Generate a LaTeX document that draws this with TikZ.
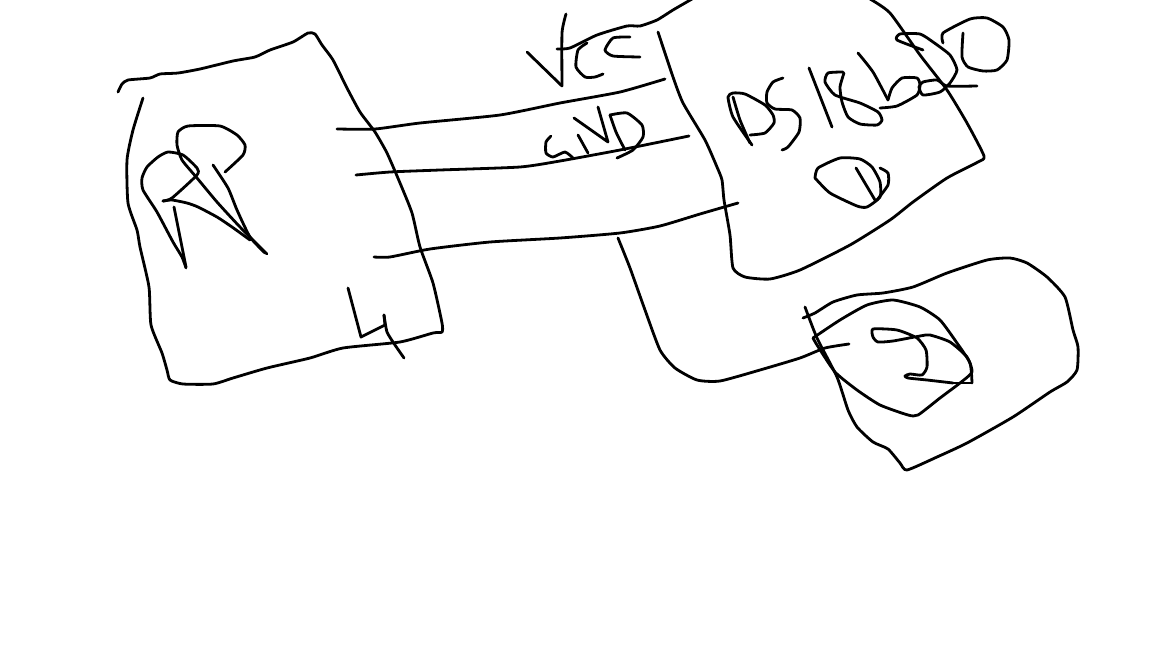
\documentclass[tikz,border=0pt]{standalone}
\tikzset{
  ink/.style={draw=black,line width=2.8pt,line cap=round,line join=round},
}
\newcommand{\stroke}[1]{\draw[ink] plot[smooth,tension=0.35] coordinates {#1};}
\begin{document}
\begin{tikzpicture}[x=1pt,y=-1pt]
\useasboundingbox (0,0) rectangle (1152,648);
\clip (0,0) rectangle (1152,648);
% left box
\stroke{(118,92)(122,84)(128,80)(150,78)(160,74)(178,73)(200,69)(233,61)(255,57)(270,50)(293,42)(308,33)(315,34)(322,45)(333,60)(347,88)(360,112)(375,132)(387,153)(400,183)(412,213)(420,247)(433,283)(442,323)(442,332)(433,333)(400,342)(343,348)(310,358)(267,368)(233,378)(213,384)(183,384)(170,380)(167,370)(162,353)(151,325)(149,287)(140,247)(137,230)(128,203)(127,160)(133,130)(143,98)}
% R
\stroke{(225,172)(243,155)(245,145)(237,135)(220,126)(188,126)(178,132)(177,145)(182,160)(197,178)(217,202)(240,227)(267,254)}
\stroke{(213,165)(228,188)(237,210)(250,237)(265,253)}
\stroke{(250,240)(232,227)(217,217)(198,207)(187,203)(172,200)(163,201)}
\stroke{(163,201)(172,198)(197,175)(197,168)(183,155)(168,152)(158,157)(147,167)(142,178)(143,190)(157,212)(173,242)(182,257)(186,268)}
\stroke{(174,207)(180,237)(186,267)}
% wires
\stroke{(337,129)(375,129)(420,123)(500,115)(560,103)(620,92)(665,79)}
\stroke{(356,175)(390,172)(440,170)(520,167)(560,161)(620,150)(689,136)}
\stroke{(374,257)(390,257)(430,249)(490,242)(560,238)(620,233)(660,226)(700,214)(738,203)}
% L mark
\draw[ink] (348,288) -- (361,337) -- (385,325) -- (384,315);
\stroke{(384,315)(387,332)(395,345)(404,358)}
% V
\draw[ink] (527,52) -- (562,86);
\stroke{(562,86)(562,33)(566,14)}
% IC top edge
\stroke{(557,49)(570,48)(597,35)(627,26)(640,26)(657,20)(673,10)(692,-1)}
% C C
\stroke{(587,43)(578,50)(576,67)(585,77)(595,77)(603,74)}
\stroke{(630,37)(613,38)(605,50)(613,56)(640,57)}
% G N D
\stroke{(551,136)(546,142)(546,153)(553,157)(565,152)(573,158)}
\draw[ink] (578,135) -- (588,153);
\draw[ink] (574,118) -- (608,142) -- (598,107);
\stroke{(610,115)(616,132)(625,150)}
\stroke{(610,115)(627,113)(642,125)(643,137)(633,150)(617,158)}
% IC outline
\stroke{(658,32)(673,77)(683,103)(705,140)(717,167)(722,180)(724,200)(730,235)(733,268)(745,277)(770,279)(800,270)(850,245)(890,220)(913,202)(947,178)(978,162)(984,156)(967,123)(947,90)(920,55)(890,13)(870,-1)}
% D S 1 8 6
\stroke{(752,145)(733,117)(728,97)(733,93)(745,94)(765,105)(773,115)(774,123)(765,133)(750,135)}
\stroke{(733,97)(740,120)(750,143)}
\stroke{(783,78)(773,82)(767,92)(767,103)(775,109)(792,110)(800,118)(799,132)(788,147)(782,150)}
\draw[ink] (809,68) -- (832,127);
\stroke{(843,72)(828,73)(825,82)(835,95)(860,103)(878,112)(882,120)(877,125)(860,124)(848,117)(842,102)(840,87)(844,73)}
\stroke{(858,53)(873,72)(888,100)}
\stroke{(888,100)(892,88)(902,78)(917,78)(920,85)(917,95)(897,106)(880,108)}
\stroke{(923,50)(897,40)(900,34)(920,34)(933,42)(950,55)(957,70)(950,83)(940,92)(923,95)(919,87)(923,82)(937,80)(947,86)(977,86)}
\stroke{(963,33)(962,57)(968,67)(983,71)(997,70)(1007,60)(1009,40)(1003,27)(987,18)(970,19)(943,33)(943,43)}
% D lower
\stroke{(815,178)(818,168)(840,158)(860,159)(872,167)(880,182)(880,197)(867,207)(857,206)(830,193)(815,178)}
\draw[ink] (856,168) -- (875,200);
\stroke{(880,168)(888,173)(888,185)(877,200)}
% wire to connector
\stroke{(618,238)(630,268)(645,310)(660,350)(675,368)(697,380)(720,381)(760,370)(800,358)(825,348)(849,344)}
% connector outer
\stroke{(803,318)(815,313)(833,302)(857,295)(883,293)(913,287)(947,273)(987,260)(1010,258)(1027,263)(1047,277)(1065,297)(1073,330)(1078,347)(1077,370)(1067,382)(1050,392)(1013,417)(967,443)(937,457)(907,470)(900,463)(888,449)(873,442)(857,427)(848,410)(837,377)(817,338)(805,307)}
% connector inner
\stroke{(813,338)(840,320)(867,305)(893,300)(920,307)(940,320)(957,343)(970,363)(972,383)}
\draw[ink] (972,372) -- (972,383) -- (953,383);
\stroke{(953,383)(927,380)(908,378)(905,376)(910,374)(922,375)(927,367)(926,350)(917,338)(897,330)(873,329)(873,337)(878,342)(893,341)(920,336)(930,335)(950,342)(967,357)(972,372)(960,383)(940,398)(918,415)(908,415)(880,405)(857,390)(835,372)(817,345)(813,338)}
\end{tikzpicture}
\end{document}
